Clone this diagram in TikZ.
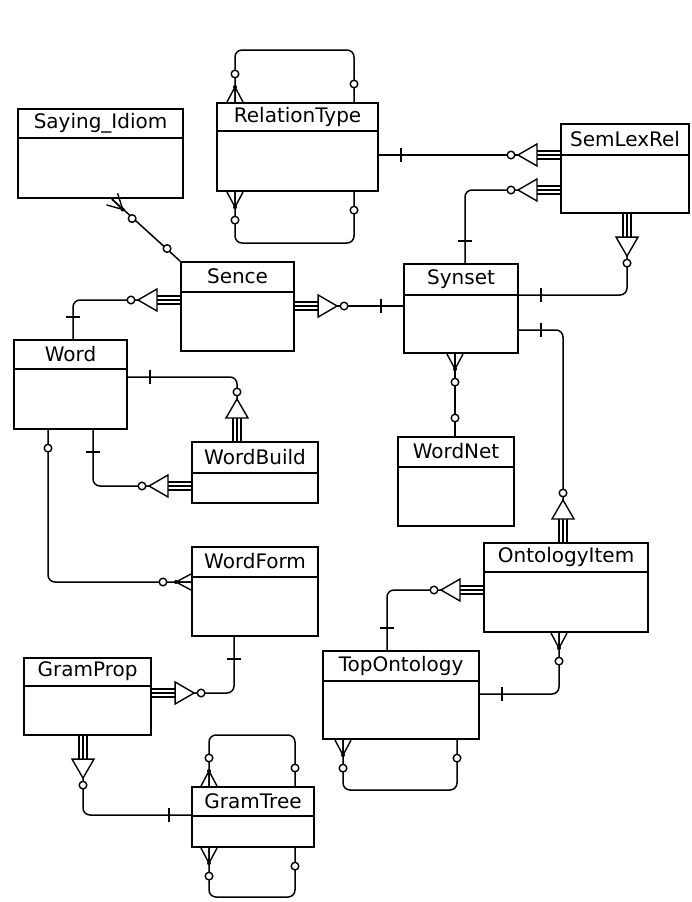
\documentclass[tikz,border=0pt]{standalone}
\usepackage{fontspec}
\setmainfont{DejaVu Sans}
\usetikzlibrary{calc}
\tikzset{
  ebox/.style={draw,line width=2.1pt,anchor=north west,inner sep=0pt},
  etxt/.style={font=\fontsize{20}{23}\selectfont,inner sep=0pt},
  conn/.style={line width=1.5pt,rounded corners=7pt},
  sym/.style={line width=1.4pt},
  crowf/.pic={\draw[sym] (0,-8)--(15,0) (0,0)--(15,0) (0,8)--(15,0);
    \fill (15,0) circle (2pt);
    \draw[sym,fill=white] (28,0) circle (3.8pt);},
  optc/.pic={\draw[sym,fill=white] (18,0) circle (3.8pt);},
  onebar/.pic={\draw[sym] (22,-7)--(22,7);},
  mtri/.pic={\draw[sym] (0,-4)--(23,-4) (0,0)--(23,0) (0,4)--(23,4);
    \draw[sym,fill=white] (23,-11)--(23,11)--(42,0)--cycle;
    \draw[sym,fill=white] (49,0) circle (3.8pt);}
}
\newcommand{\entity}[7]{%
  \node[ebox,minimum width=#5pt,minimum height=#6pt] (#1) at (#3,#4) {};
  \draw[line width=2.1pt] ([yshift=-#7pt]#1.north west) -- ([yshift=-#7pt]#1.north east);
  \node[etxt] at ([yshift=-#7pt/2]#1.north) {#2};
}

\begin{document}
\begin{tikzpicture}[x=1pt,y=-1pt]
\useasboundingbox (0,0) rectangle (691,902);
% entities
\entity{sayi}{Saying\_Idiom}{17}{108}{165}{89}{30}
\entity{relt}{RelationType}{216}{102}{161}{88}{29}
\entity{slr}{SemLexRel}{560}{123}{128}{89}{32}
\entity{sence}{Sence}{180}{261}{113}{89}{31}
\entity{synset}{Synset}{403}{263}{114}{89}{32}
\entity{word}{Word}{13}{339}{113}{89}{30}
\entity{wbuild}{WordBuild}{191}{441}{126}{61}{32}
\entity{wnet}{WordNet}{397}{436}{116}{89}{31}
\entity{wform}{WordForm}{191}{546}{126}{89}{31}
\entity{oitem}{OntologyItem}{483}{542}{164}{89}{30}
\entity{gprop}{GramProp}{23}{657}{127}{77}{29}
\entity{topo}{TopOntology}{322}{650}{156}{88}{31}
\entity{gtree}{GramTree}{191}{786}{122}{60}{30}
% relationships
\draw[conn] (sayi.south -| 112,0) -- (sence.north west);
\draw[conn] (relt.north -| 235,0) -- (235,50) -- (354,50) -- (relt.north -| 354,0);
\draw[conn] (relt.south -| 235,0) -- (235,243) -- (354,243) -- (relt.south -| 354,0);
\draw[conn] (relt.east |- 0,155) -- (slr.west |- 0,155);
\draw[conn] (synset.north -| 465,0) -- (465,190) -- (slr.west |- 0,190);
\draw[conn] (slr.south -| 627,0) -- (627,295) -- (synset.east |- 0,295);
\draw[conn] (sence.east |- 0,306) -- (synset.west |- 0,306);
\draw[conn] (sence.west |- 0,300) -- (73,300) -- (word.north -| 73,0);
\draw[conn] (word.east |- 0,377) -- (237,377) -- (wbuild.north -| 237,0);
\draw[conn] (word.south -| 93,0) -- (93,486) -- (wbuild.west |- 0,486);
\draw[conn] (word.south -| 48,0) -- (48,582) -- (wform.west |- 0,582);
\draw[conn] (wform.south -| 234,0) -- (234,693) -- (gprop.east |- 0,693);
\draw[conn] (gprop.south -| 83,0) -- (83,815) -- (gtree.west |- 0,815);
\draw[conn] (gtree.north -| 209,0) -- (209,735) -- (295,735) -- (gtree.north -| 295,0);
\draw[conn] (gtree.south -| 209,0) -- (209,897) -- (295,897) -- (gtree.south -| 295,0);
\draw[conn] (synset.south -| 455,0) -- (wnet.north -| 455,0);
\draw[conn] (synset.east |- 0,330) -- (563,330) -- (oitem.north -| 563,0);
\draw[conn] (oitem.west |- 0,590) -- (387,590) -- (topo.north -| 387,0);
\draw[conn] (oitem.south -| 559,0) -- (559,694) -- (topo.east |- 0,694);
\draw[conn] (topo.south -| 343,0) -- (343,790) -- (457,790) -- (topo.south -| 457,0);
% ends
\path (sayi.south -| 112,0) pic[rotate=-44] {crowf};
\path (sence.north west) pic[rotate=136] {optc};
\path (relt.north -| 235,0) pic[rotate=90] {crowf};
\path (relt.north -| 354,0) pic[rotate=90] {optc};
\path (relt.south -| 235,0) pic[rotate=270] {crowf};
\path (relt.south -| 354,0) pic[rotate=270] {optc};
\path (relt.east |- 0,155) pic {onebar};
\path (slr.west |- 0,155) pic[rotate=180] {mtri};
\path (synset.north -| 465,0) pic[rotate=90] {onebar};
\path (slr.west |- 0,190) pic[rotate=180] {mtri};
\path (slr.south -| 627,0) pic[rotate=270] {mtri};
\path (synset.east |- 0,295) pic {onebar};
\path (sence.east |- 0,306) pic {mtri};
\path (synset.west |- 0,306) pic[rotate=180] {onebar};
\path (sence.west |- 0,300) pic[rotate=180] {mtri};
\path (word.north -| 73,0) pic[rotate=90] {onebar};
\path (word.east |- 0,377) pic {onebar};
\path (wbuild.north -| 237,0) pic[rotate=90] {mtri};
\path (word.south -| 93,0) pic[rotate=270] {onebar};
\path (wbuild.west |- 0,486) pic[rotate=180] {mtri};
\path (word.south -| 48,0) pic[rotate=270] {optc};
\path (wform.west |- 0,582) pic[rotate=180] {crowf};
\path (wform.south -| 234,0) pic[rotate=270] {onebar};
\path (gprop.east |- 0,693) pic {mtri};
\path (gprop.south -| 83,0) pic[rotate=270] {mtri};
\path (gtree.west |- 0,815) pic[rotate=180] {onebar};
\path (gtree.north -| 209,0) pic[rotate=90] {crowf};
\path (gtree.north -| 295,0) pic[rotate=90] {optc};
\path (gtree.south -| 209,0) pic[rotate=270] {crowf};
\path (gtree.south -| 295,0) pic[rotate=270] {optc};
\path (synset.south -| 455,0) pic[rotate=270] {crowf};
\path (wnet.north -| 455,0) pic[rotate=90] {optc};
\path (synset.east |- 0,330) pic {onebar};
\path (oitem.north -| 563,0) pic[rotate=90] {mtri};
\path (oitem.west |- 0,590) pic[rotate=180] {mtri};
\path (topo.north -| 387,0) pic[rotate=90] {onebar};
\path (oitem.south -| 559,0) pic[rotate=270] {crowf};
\path (topo.east |- 0,694) pic {onebar};
\path (topo.south -| 343,0) pic[rotate=270] {crowf};
\path (topo.south -| 457,0) pic[rotate=270] {optc};
\end{tikzpicture}
\end{document}
